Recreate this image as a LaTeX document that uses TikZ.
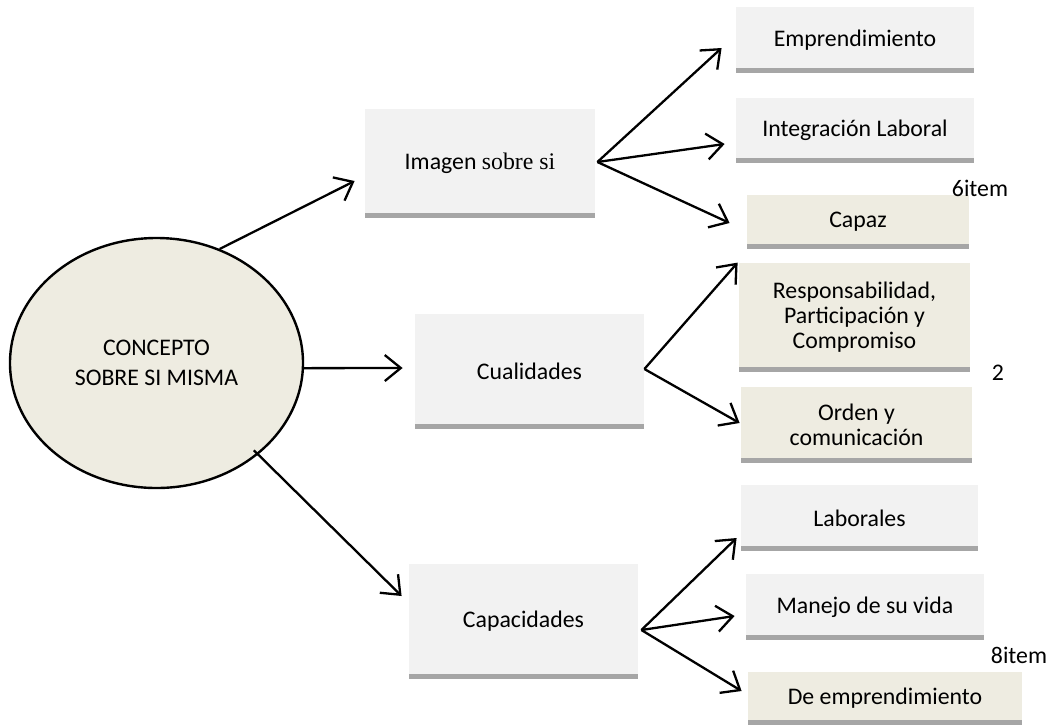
\documentclass[tikz,border=0pt]{standalone}
\usepackage{fontspec}
\setmainfont{Carlito}
\newfontfamily\tnrfont{Liberation Serif}
\usetikzlibrary{shapes.geometric,arrows.meta,calc}
\definecolor{boxgray}{HTML}{F2F2F2}
\definecolor{boxbeige}{HTML}{EEECE1}
\definecolor{barcol}{HTML}{A6A6A6}
\tikzset{
  box/.style={rectangle, inner sep=0pt, align=center,
    font=\fontsize{11.9}{12.5}\selectfont,
    path picture={\fill[barcol] (path picture bounding box.south west) rectangle ([yshift=2.7pt]path picture bounding box.south east);}},
  arr/.style={line width=1.15pt, -{Straight Barb[length=8pt,width=13pt,line width=1.15pt]}},
  lbl/.style={font=\fontsize{11.9}{12.5}\selectfont, inner sep=0pt}
}
\newcommand\bx[7]{%
  \node[box, fill=#6, minimum width={(#4-#2)*0.5pt}, minimum height={(#5-#3)*0.5pt}]
    (#1) at ({(#2+#4)/2},{(#3+#5)/2}) {#7};}
\begin{document}
\begin{tikzpicture}[x=0.5pt,y=-0.5pt]
\useasboundingbox (0,0) rectangle (1055,725);
% central ellipse
\node[ellipse, draw=black, line width=1.2pt, fill=boxbeige, minimum width=146.5pt, minimum height=125pt,
  inner sep=0pt, align=center, font=\fontsize{11.9}{15}\selectfont]
  (ell) at (156.5,363) {CONCEPTO\\SOBRE SI MISMA};
% middle boxes
\bx{img}{365}{109}{595}{218}{boxgray}{Imagen {\tnrfont sobre si}}
\bx{cual}{415}{314}{644}{429}{boxgray}{Cualidades}
\bx{capa}{409}{564}{638}{679}{boxgray}{Capacidades}
% right boxes
\bx{e1}{736}{7}{974}{73}{boxgray}{Emprendimiento}
\bx{e2}{736}{98}{974}{163}{boxgray}{Integración Laboral}
\bx{e3}{747}{195}{969}{249}{boxbeige}{Capaz}
\bx{r1}{739}{263}{970}{372}{boxbeige}{Responsabilidad,\\Participación y\\Compromiso}
\bx{r2}{741}{387}{972}{463}{boxbeige}{\fontsize{11.9}{11.5}\selectfont Orden y\\comunicación}
\bx{l1}{741}{485}{978}{551}{boxgray}{Laborales}
\bx{l2}{746}{574}{984}{640}{boxgray}{Manejo de su vida}
\bx{l3}{748}{672}{1022}{725}{boxbeige}{De emprendimiento}
% side labels
\node[lbl] (n6) at (980,188) {6item};
\node[lbl] (n2) at (998,373) {2};
\node[lbl] (n8) at (1019,655) {8item};
% connectors from ellipse
\draw[arr] (ell.61) -- ($(img.west)+(-10,17.5)$);
\draw[arr] (ell.-2) -- ($(cual.west)+(-12,-3.5)$);
\draw[arr, shorten <=-3pt] (ell.-42) -- ($(capa.west)+(-7,-25.5)$);
% fan from Imagen
\coordinate (imgO) at ($(img.east)+(2,-1.5)$);
\draw[arr] (imgO) -- ($(e1.west)+(-14,8)$);
\draw[arr] (imgO) -- ($(e2.west)+(-11,13.5)$);
\draw[arr] (imgO) -- ($(e3.west)+(-17,1)$);
% fan from Cualidades
\coordinate (cualO) at ($(cual.east)+(0,-2.5)$);
\draw[arr] (cualO) -- ($(r1.north west)+(-1,0)$);
\draw[arr] (cualO) -- ($(r2.west)+(-1,-2)$);
% fan from Capacidades
\coordinate (capaO) at ($(capa.east)+(3,8.5)$);
\draw[arr] (capaO) -- ($(l1.west)+(-4,20)$);
\draw[arr] (capaO) -- ($(l2.west)+(-11,9)$);
\draw[arr] (capaO) -- ($(l3.west)+(-6,-7.5)$);
\end{tikzpicture}
\end{document}
